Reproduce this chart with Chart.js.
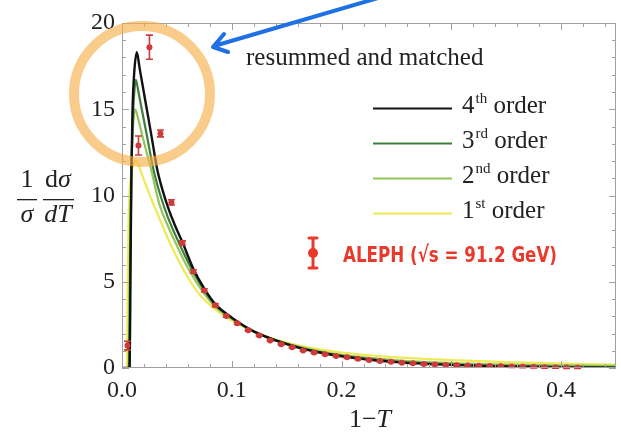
<!DOCTYPE html>
<html>
<head>
<meta charset="utf-8">
<script src="https://cdn.jsdelivr.net/npm/chart.js@4.4.1/dist/chart.umd.min.js"></script>
<style>
  html, body { margin: 0; padding: 0; background: #fff; }
  #wrap { width: 621px; height: 440px; }
</style>
</head>
<body>
<div id="wrap"><canvas id="chart" width="621" height="440"></canvas></div>
<script>
// ALEPH data, sqrt(s) = 91.2 GeV
var alephX = [0.005, 0.015, 0.025, 0.035, 0.045, 0.055, 0.065, 0.075, 0.085, 0.095,
              0.105, 0.115, 0.125, 0.135, 0.145, 0.155, 0.165, 0.175, 0.185, 0.195,
              0.205, 0.215, 0.225, 0.235, 0.245, 0.255, 0.265, 0.275, 0.285, 0.295,
              0.305, 0.315, 0.325, 0.335, 0.345, 0.355, 0.365, 0.375, 0.385, 0.395,
              0.405, 0.415];
var alephY = [1.3, 12.9, 18.6, 13.6, 9.6, 7.25, 5.6, 4.5, 3.64, 3.02,
              2.59, 2.19, 1.89, 1.6, 1.38, 1.2, 1.02, 0.9, 0.8, 0.7,
              0.62, 0.53, 0.47, 0.41, 0.36, 0.31, 0.27, 0.23, 0.2, 0.18,
              0.16, 0.14, 0.13, 0.11, 0.1, 0.08, 0.07, 0.055, 0.045, 0.035,
              0.025, 0.02];
var alephErr = [0.25, 0.55, 0.7, 0.2, 0.15, 0.12, 0.1, 0.09, 0.08, 0.07,
                0.06, 0.05, 0.05, 0.05, 0.05, 0.05, 0.05, 0.05, 0.05, 0.05,
                0.05, 0.05, 0.05, 0.05, 0.05, 0.05, 0.05, 0.05, 0.05, 0.05,
                0.05, 0.05, 0.05, 0.05, 0.05, 0.05, 0.05, 0.05, 0.05, 0.05,
                0.05, 0.05];

// resummed and matched predictions
var order4X = [0, 0.007, 0.0078, 0.0086, 0.0096, 0.011, 0.0135, 0.016, 0.019, 0.0226,
               0.027, 0.0318, 0.037, 0.042, 0.048, 0.055, 0.065, 0.075, 0.085, 0.1,
               0.12, 0.14, 0.16, 0.18, 0.2, 0.25, 0.3, 0.35, 0.4, 0.45];
var order4Y = [0, 0, 6, 11.5, 15.0, 17.0, 18.3, 17.4, 16.3, 15.0,
               13.4, 11.6, 10.3, 9.3, 8.3, 7.3, 5.75, 4.6, 3.7, 2.92,
               2.12, 1.6, 1.2, 0.9, 0.68, 0.34, 0.18, 0.09, 0.035, 0.01];

var order3X = [0, 0.0065, 0.0075, 0.0085, 0.0097, 0.0112, 0.0126, 0.015, 0.018, 0.022,
               0.0287, 0.035, 0.042, 0.052, 0.065, 0.075, 0.085, 0.1, 0.12, 0.14,
               0.16, 0.18, 0.2, 0.25, 0.3, 0.35, 0.4, 0.45];
var order3Y = [0, 0, 6, 10.8, 14.0, 16.0, 16.7, 16.0, 15.0, 13.7,
               11.5, 10.0, 8.7, 7.23, 5.55, 4.5, 3.65, 2.9, 2.12, 1.6,
               1.21, 0.92, 0.7, 0.37, 0.21, 0.12, 0.07, 0.05];

var order2X = [0, 0.006, 0.007, 0.008, 0.0092, 0.0106, 0.012, 0.0145, 0.018, 0.022,
               0.0266, 0.034, 0.042, 0.049, 0.06, 0.075, 0.085, 0.1, 0.12, 0.14,
               0.16, 0.18, 0.2, 0.25, 0.3, 0.35, 0.4, 0.45];
var order2Y = [0, 0, 5.5, 10, 13, 14.5, 15.0, 14.5, 13.6, 12.6,
               11.5, 9.5, 8.2, 7.23, 5.8, 4.3, 3.55, 2.85, 2.12, 1.62,
               1.25, 0.97, 0.76, 0.45, 0.29, 0.2, 0.15, 0.12];

var order1X = [0, 0.0045, 0.0052, 0.006, 0.007, 0.0085, 0.0105, 0.013, 0.016, 0.02,
               0.026, 0.032, 0.044, 0.056, 0.07, 0.085, 0.1, 0.12, 0.14, 0.16,
               0.18, 0.2, 0.25, 0.3, 0.35, 0.4, 0.45];
var order1Y = [0, 0, 5, 8.5, 10.3, 11.3, 11.85, 12.0, 11.6, 10.9,
               9.9, 9.0, 7.2, 5.7, 4.3, 3.4, 2.75, 2.1, 1.65, 1.32,
               1.08, 0.9, 0.62, 0.46, 0.34, 0.25, 0.2];

var xTickValues = [0, 0.1, 0.2, 0.3, 0.4];
var xTickLabels = ["0.0", "0.1", "0.2", "0.3", "0.4"];
var yTickValues = [0, 5, 10, 15, 20];
var yTickLabels = ["0", "5", "10", "15", "20"];

var legendNames = [["4", "th", " order"], ["3", "rd", " order"], ["2", "nd", " order"], ["1", "st", " order"]];
var lineColors = ["#111111", "#3f7d3a", "#93c55a", "#eeea55"];

var SERIF = "'Liberation Serif', 'Times New Roman', serif";
var RED = "#cc3a3a";

function toPoints(xs, ys) {
    var pts = [];
    for (var i = 0; i < xs.length; i++) {
        pts.push({x: xs[i], y: ys[i]});
    }
    return pts;
}

function lineSet(label, xs, ys, color, width) {
    return {
        label: label,
        data: toPoints(xs, ys),
        showLine: true,
        borderColor: color,
        backgroundColor: color,
        borderWidth: width,
        pointRadius: 0,
        cubicInterpolationMode: 'monotone',
        fill: false
    };
}

function serif(size, italic) {
    return (italic ? "italic " : "") + size + "px " + SERIF;
}

// frame with inward ticks on all four sides, Mathematica style
function drawFrame(chart) {
    var ctx = chart.ctx;
    var a = chart.chartArea;
    var xs = chart.scales.x, ys = chart.scales.y;
    ctx.save();
    ctx.strokeStyle = "#a0a0a0";
    ctx.lineWidth = 1;
    ctx.strokeRect(a.left + 0.5, a.top + 0.5, a.right - a.left - 1, a.bottom - a.top - 1);
    ctx.beginPath();
    for (var k = 0; k <= 22; k++) {
        var v = k * 0.02;
        var px = Math.round(xs.getPixelForValue(v)) + 0.5;
        var len = (k % 5 == 0) ? 7 : 4;
        ctx.moveTo(px, a.bottom);
        ctx.lineTo(px, a.bottom - len);
        ctx.moveTo(px, a.top);
        ctx.lineTo(px, a.top + len);
    }
    for (var j = 0; j <= 20; j++) {
        var py = Math.round(ys.getPixelForValue(j)) + 0.5;
        var l2 = (j % 5 == 0) ? 7 : 4;
        ctx.moveTo(a.left, py);
        ctx.lineTo(a.left + l2, py);
        ctx.moveTo(a.right, py);
        ctx.lineTo(a.right - l2, py);
    }
    ctx.stroke();
    ctx.restore();
}

function drawTitles(chart) {
    var ctx = chart.ctx;
    ctx.save();
    ctx.fillStyle = "#222";
    ctx.textBaseline = "alphabetic";
    ctx.textAlign = "center";
    // y title: 1/sigma dsigma/dT
    ctx.font = serif(26, false);
    ctx.fillText("1", 27, 187);
    ctx.font = serif(26, true);
    ctx.fillText("\u03c3", 27, 222);
    ctx.font = serif(26, false);
    var w1 = ctx.measureText("d").width;
    ctx.font = serif(26, true);
    var w2 = ctx.measureText("\u03c3").width;
    var sx = 58 - (w1 + w2) / 2;
    ctx.textAlign = "left";
    ctx.font = serif(26, false);
    ctx.fillText("d", sx, 187);
    ctx.font = serif(26, true);
    ctx.fillText("\u03c3", sx + w1, 187);
    ctx.textAlign = "center";
    ctx.fillText("dT", 58, 222);
    ctx.fillRect(17, 199, 20, 1.3);
    ctx.fillRect(43, 199, 31, 1.3);

    // x title: 1 - T
    ctx.textAlign = "left";
    ctx.font = serif(26, false);
    var a1 = ctx.measureText("1\u2212").width;
    ctx.font = serif(26, true);
    var a2 = ctx.measureText("T").width;
    var tx = 370 - (a1 + a2) / 2;
    ctx.font = serif(26, false);
    ctx.fillText("1\u2212", tx, 427);
    ctx.font = serif(26, true);
    ctx.fillText("T", tx + a1, 427);

    // annotation
    ctx.font = serif(25, false);
    ctx.fillText("resummed and matched", 246, 65);
    ctx.restore();
}

function drawLegend(chart) {
    var ctx = chart.ctx;
    var rows = [108, 143, 178, 213];
    ctx.save();
    for (var i = 0; i < legendNames.length; i++) {
        var y = rows[i];
        ctx.strokeStyle = lineColors[i];
        ctx.lineWidth = 2;
        ctx.beginPath();
        ctx.moveTo(373, y + 0.5);
        ctx.lineTo(452, y + 0.5);
        ctx.stroke();
        ctx.fillStyle = "#222";
        ctx.textAlign = "left";
        ctx.textBaseline = "alphabetic";
        var x = 462;
        ctx.font = serif(25, false);
        ctx.fillText(legendNames[i][0], x, y + 5);
        x += ctx.measureText(legendNames[i][0]).width + 1;
        ctx.font = serif(15, false);
        ctx.fillText(legendNames[i][1], x, y - 5);
        x += ctx.measureText(legendNames[i][1]).width;
        ctx.font = serif(25, false);
        ctx.fillText(legendNames[i][2], x, y + 5);
    }

    // ALEPH entry, hand-written style
    ctx.strokeStyle = "#e8392c";
    ctx.fillStyle = "#e8392c";
    ctx.lineWidth = 3;
    ctx.lineCap = "round";
    ctx.beginPath();
    ctx.moveTo(313, 238); ctx.lineTo(313, 268);
    ctx.moveTo(309, 238); ctx.lineTo(317, 238);
    ctx.moveTo(309, 268); ctx.lineTo(317, 268);
    ctx.stroke();
    ctx.beginPath();
    ctx.arc(313, 253, 5, 0, Math.PI * 2);
    ctx.fill();
    ctx.font = "bold 22px 'DejaVu Sans', sans-serif";
    var txt = "ALEPH (\u221as = 91.2 GeV)";
    var tw = ctx.measureText(txt).width;
    ctx.translate(343, 262);
    ctx.scale(214 / tw, 1);
    ctx.fillText(txt, 0, 0);
    ctx.restore();
}

function drawMarks(chart) {
    var ctx = chart.ctx;
    ctx.save();
    // highlight ring
    ctx.strokeStyle = "rgba(245, 172, 70, 0.62)";
    ctx.lineWidth = 10;
    ctx.beginPath();
    ctx.arc(142, 94, 68, 0, Math.PI * 2);
    ctx.stroke();
    // blue arrow
    ctx.strokeStyle = "#1f6fe5";
    ctx.lineWidth = 4;
    ctx.lineCap = "round";
    ctx.lineJoin = "round";
    ctx.beginPath();
    ctx.moveTo(378, -2);
    ctx.lineTo(214, 46);
    ctx.moveTo(224, 34);
    ctx.lineTo(213, 47);
    ctx.lineTo(228, 52);
    ctx.stroke();
    ctx.restore();
}

var framePlugin = {
    id: 'framePlugin',
    beforeDraw: function(chart) {
        var ctx = chart.ctx;
        ctx.save();
        ctx.fillStyle = "#fff";
        ctx.fillRect(0, 0, chart.width, chart.height);
        ctx.restore();
    },
    beforeDatasetDraw: function(chart, args) {
        if (args.index != 0) return;
        // error bars below the ALEPH markers
        var ctx = chart.ctx;
        var xs = chart.scales.x, ys = chart.scales.y;
        ctx.save();
        ctx.strokeStyle = RED;
        ctx.lineWidth = 1.6;
        ctx.beginPath();
        for (var i = 0; i < alephX.length; i++) {
            var px = xs.getPixelForValue(alephX[i]);
            var y1 = ys.getPixelForValue(alephY[i] + alephErr[i]);
            var y2 = ys.getPixelForValue(alephY[i] - alephErr[i]);
            ctx.moveTo(px, y1); ctx.lineTo(px, y2);
            ctx.moveTo(px - 3.5, y1); ctx.lineTo(px + 3.5, y1);
            ctx.moveTo(px - 3.5, y2); ctx.lineTo(px + 3.5, y2);
        }
        ctx.stroke();
        ctx.restore();
    },
    afterDraw: function(chart) {
        drawFrame(chart);
        drawTitles(chart);
        drawLegend(chart);
        drawMarks(chart);
    }
};

var ctx = document.getElementById("chart").getContext("2d");
var chart = new Chart(ctx, {
    type: 'scatter',
    data: {
        datasets: [
            {
                label: "ALEPH",
                data: toPoints(alephX, alephY),
                pointRadius: 3,
                pointBackgroundColor: RED,
                pointBorderWidth: 0,
                showLine: false
            },
            lineSet("4th order", order4X, order4Y, lineColors[0], 2.4),
            lineSet("3rd order", order3X, order3Y, lineColors[1], 2.2),
            lineSet("2nd order", order2X, order2Y, lineColors[2], 2.2),
            lineSet("1st order", order1X, order1Y, lineColors[3], 2.2)
        ]
    },
    options: {
        responsive: false,
        animation: false,
        devicePixelRatio: 1,
        layout: {padding: {left: 0, right: 5, top: 23, bottom: 0}},
        plugins: {
            legend: {display: false},
            tooltip: {enabled: false},
            title: {display: false}
        },
        scales: {
            x: {
                type: 'linear',
                min: 0,
                max: 0.45,
                grid: {display: false, drawTicks: false},
                border: {display: false},
                afterBuildTicks: function(scale) {
                    scale.ticks = xTickValues.map(function(v) { return {value: v}; });
                },
                afterFit: function(scale) { scale.height = 72; },
                ticks: {
                    font: {family: SERIF, size: 24},
                    color: "#222",
                    padding: 8,
                    maxRotation: 0,
                    callback: function(v, i) { return xTickLabels[i]; }
                }
            },
            y: {
                type: 'linear',
                min: 0,
                max: 20,
                grid: {display: false, drawTicks: false},
                border: {display: false},
                afterBuildTicks: function(scale) {
                    scale.ticks = yTickValues.map(function(v) { return {value: v}; });
                },
                afterFit: function(scale) { scale.width = 122; },
                ticks: {
                    font: {family: SERIF, size: 24},
                    color: "#222",
                    padding: 7,
                    callback: function(v, i) { return yTickLabels[i]; }
                }
            }
        }
    },
    plugins: [framePlugin]
});
</script>
</body>
</html>
